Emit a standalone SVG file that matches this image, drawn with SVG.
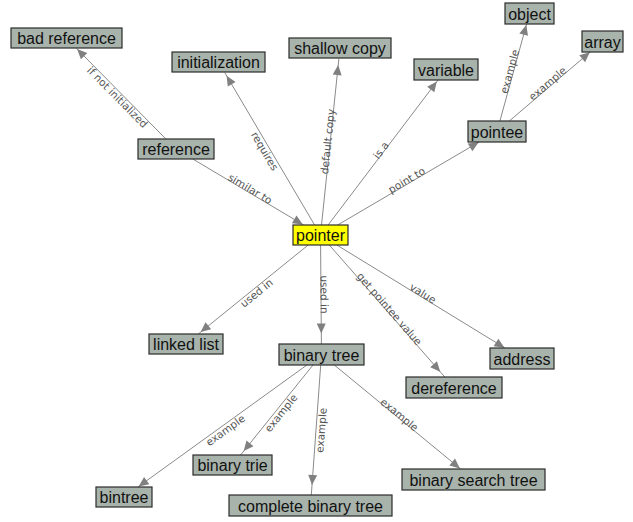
<svg xmlns="http://www.w3.org/2000/svg" width="633" height="522" viewBox="0 0 633 522">
  <style>
    .node rect { fill: #a8b3ac; stroke: #2b2b2b; stroke-width: 1.2; }
    .node.focus rect { fill: #ffff00; }
    .node text { font-family: "Liberation Sans", Arial, sans-serif; font-size: 16px; fill: #111; text-anchor: middle; }
    .edge line { stroke: #8a8a8a; stroke-width: 1; }
    .edge use { fill: #808080; }
    .lbl { font-family: "DejaVu Sans", Verdana, sans-serif; font-size: 10.5px; fill: #555; text-anchor: middle; dominant-baseline: central; }
  </style>
  <defs>
    <path id="arrow" d="M0,0 L-10,-4.5 L-10,4.5 Z"/>
  </defs>
  <rect width="633" height="522" fill="#ffffff"/>

  <g id="connectors">
    <!-- reference -> bad reference -->
    <g class="edge">
      <line x1="165.9" y1="139" x2="76.4" y2="48.3"/>
      <use href="#arrow" transform="translate(77.1,49) rotate(-134.6)"/>
      <text class="lbl" transform="translate(117.6,97) rotate(45.4)">if not initialized</text>
    </g>
    <!-- reference -> pointer -->
    <g class="edge">
      <line x1="192.8" y1="159" x2="303.7" y2="225"/>
      <use href="#arrow" transform="translate(302.8,224.5) rotate(30.76)"/>
      <text class="lbl" transform="translate(250.3,188.6) rotate(30.76)">similar to</text>
    </g>
    <!-- pointer -> initialization -->
    <g class="edge">
      <line x1="314.6" y1="225" x2="224.8" y2="72.7"/>
      <use href="#arrow" transform="translate(226.6,75.7) rotate(-120.5)"/>
      <text class="lbl" transform="translate(265,151) rotate(59.5)">requires</text>
    </g>
    <!-- pointer -> shallow copy -->
    <g class="edge">
      <line x1="321.5" y1="225" x2="338.9" y2="58.7"/>
      <use href="#arrow" transform="translate(338.2,65) rotate(-84.05)"/>
      <text class="lbl" transform="translate(327.5,141.5) rotate(-84.05)">default copy</text>
    </g>
    <!-- pointer -> variable -->
    <g class="edge">
      <line x1="328.1" y1="225" x2="438" y2="80"/>
      <use href="#arrow" transform="translate(436.8,81.6) rotate(-52.83)"/>
      <text class="lbl" transform="translate(380.8,150) rotate(-52.83)">is a</text>
    </g>
    <!-- pointer -> pointee -->
    <g class="edge">
      <line x1="337.6" y1="225" x2="479.6" y2="141.7"/>
      <use href="#arrow" transform="translate(478.7,142.2) rotate(-30.39)"/>
      <text class="lbl" transform="translate(406.6,179.9) rotate(-30.39)">point to</text>
    </g>
    <!-- pointee -> object -->
    <g class="edge">
      <line x1="499.9" y1="121" x2="526.6" y2="24"/>
      <use href="#arrow" transform="translate(526.3,25) rotate(-74.6)"/>
      <text class="lbl" transform="translate(509.4,71.4) rotate(-74.6)">example</text>
    </g>
    <!-- pointee -> array -->
    <g class="edge">
      <line x1="509.3" y1="121" x2="590.6" y2="51.7"/>
      <use href="#arrow" transform="translate(589.8,52.3) rotate(-40.47)"/>
      <text class="lbl" transform="translate(547.4,83.3) rotate(-40.47)">example</text>
    </g>
    <!-- pointer -> linked list -->
    <g class="edge">
      <line x1="308.2" y1="245" x2="198.3" y2="334"/>
      <use href="#arrow" transform="translate(200.6,332.1) rotate(140.98)"/>
      <text class="lbl" transform="translate(256.3,292.8) rotate(-39.02)">used in</text>
    </g>
    <!-- pointer -> binary tree -->
    <g class="edge">
      <line x1="320.6" y1="245" x2="321.4" y2="344"/>
      <use href="#arrow" transform="translate(321.3,333.5) rotate(89.5)"/>
      <text class="lbl" transform="translate(324.6,294.5) rotate(89.5)">used in</text>
    </g>
    <!-- pointer -> dereference -->
    <g class="edge">
      <line x1="329.3" y1="245" x2="444.8" y2="377"/>
      <use href="#arrow" transform="translate(440.2,371.7) rotate(48.8)"/>
      <text class="lbl" transform="translate(389.6,308.7) rotate(48.8)">get pointee value</text>
    </g>
    <!-- pointer -> address -->
    <g class="edge">
      <line x1="336.8" y1="245" x2="504.9" y2="348"/>
      <use href="#arrow" transform="translate(504.5,347.7) rotate(31.5)"/>
      <text class="lbl" transform="translate(423.1,293.2) rotate(31.5)">value</text>
    </g>
    <!-- binary tree -> bintree -->
    <g class="edge">
      <line x1="306.9" y1="365" x2="137.9" y2="487"/>
      <use href="#arrow" transform="translate(138.6,486.4) rotate(144.2)"/>
      <text class="lbl" transform="translate(225.2,430) rotate(-35.8)">example</text>
    </g>
    <!-- binary tree -> binary trie -->
    <g class="edge">
      <line x1="313" y1="365" x2="240.6" y2="455"/>
      <use href="#arrow" transform="translate(243.7,451.1) rotate(128.85)"/>
      <text class="lbl" transform="translate(280.8,412.9) rotate(-51.15)">example</text>
    </g>
    <!-- binary tree -> complete binary tree -->
    <g class="edge">
      <line x1="320.7" y1="365" x2="311.3" y2="495"/>
      <use href="#arrow" transform="translate(312,485) rotate(94.17)"/>
      <text class="lbl" transform="translate(321,430.2) rotate(-85.83)">example</text>
    </g>
    <!-- binary tree -> binary search tree -->
    <g class="edge">
      <line x1="334.3" y1="365" x2="460.7" y2="469"/>
      <use href="#arrow" transform="translate(459.9,468.4) rotate(39.43)"/>
      <text class="lbl" transform="translate(399.6,414.4) rotate(39.43)">example</text>
    </g>
  </g>

  <g id="bad-reference" class="node"><rect x="11" y="28" width="111" height="20"/><text x="66.5" y="44.3">bad reference</text></g>
  <g id="reference" class="node"><rect x="138" y="139" width="76" height="20"/><text x="176" y="155.3">reference</text></g>
  <g id="initialization" class="node"><rect x="172" y="52" width="93" height="20"/><text x="218.5" y="68.3">initialization</text></g>
  <g id="shallow-copy" class="node"><rect x="289" y="38" width="102" height="20"/><text x="340" y="54.3">shallow copy</text></g>
  <g id="variable" class="node"><rect x="414" y="59" width="64" height="21"/><text x="446" y="75.8">variable</text></g>
  <g id="object" class="node"><rect x="505" y="3" width="49" height="21"/><text x="529.5" y="19.8">object</text></g>
  <g id="array" class="node"><rect x="582" y="31" width="41" height="21"/><text x="602.5" y="47.8">array</text></g>
  <g id="pointee" class="node"><rect x="468" y="121" width="58" height="21"/><text x="497" y="137.8">pointee</text></g>
  <g id="pointer" class="node focus"><rect x="293" y="225" width="55" height="20"/><text x="320.5" y="241.3">pointer</text></g>
  <g id="linked-list" class="node"><rect x="149" y="334" width="74" height="20"/><text x="186" y="350.3">linked list</text></g>
  <g id="binary-tree" class="node"><rect x="279" y="344" width="85" height="21"/><text x="321.5" y="360.8">binary tree</text></g>
  <g id="dereference" class="node"><rect x="406" y="377" width="96" height="21"/><text x="454" y="393.8">dereference</text></g>
  <g id="address" class="node"><rect x="490" y="348" width="64" height="21"/><text x="522" y="364.8">address</text></g>
  <g id="binary-trie" class="node"><rect x="193" y="455" width="79" height="20"/><text x="232.5" y="471.3">binary trie</text></g>
  <g id="bintree" class="node"><rect x="96" y="487" width="56" height="20"/><text x="124" y="503.3">bintree</text></g>
  <g id="complete-binary-tree" class="node"><rect x="229" y="495" width="163" height="21"/><text x="310.5" y="511.8">complete binary tree</text></g>
  <g id="binary-search-tree" class="node"><rect x="402" y="469" width="143" height="21"/><text x="473.5" y="485.8">binary search tree</text></g>
</svg>
